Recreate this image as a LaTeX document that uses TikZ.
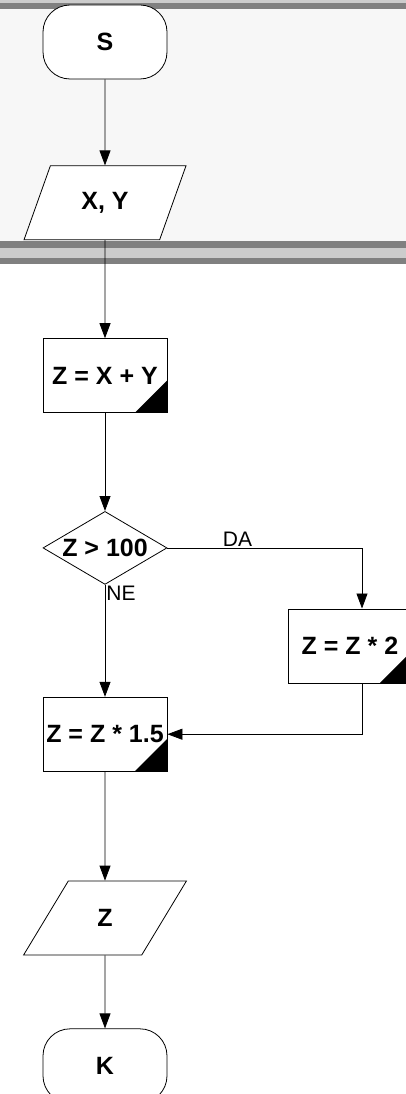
\documentclass[tikz,border=0pt]{standalone}
\usepackage{fontspec}
\setmainfont{Liberation Sans}
\usetikzlibrary{positioning,arrows.meta,shapes.geometric,calc}
\definecolor{bandgray}{HTML}{808080}
\definecolor{bandlight}{HTML}{CCCCCC}
\definecolor{panelgray}{HTML}{F7F7F7}

\begin{document}
\begin{tikzpicture}[x=1pt,y=1pt,>={Triangle[length=15pt,width=11pt]}]
\tikzset{
  box/.style={draw,line width=0.8pt,fill=white,minimum width=124pt,minimum height=74pt,inner sep=0pt,font=\fontsize{25}{29}\selectfont\bfseries},
  term/.style={box,rounded corners=27pt},
  io/.style={box,trapezium,trapezium left angle=61.6,trapezium right angle=118.4,trapezium stretches=true,minimum width=163pt},
  proc/.style={box,path picture={\fill[black] (path picture bounding box.south east) -- ++(-32pt,0pt) -- ++(32pt,32pt) -- cycle;}},
  cond/.style={box,diamond,aspect=1.7,minimum height=73pt},
  lbl/.style={font=\fontsize{21}{24}\selectfont,inner sep=1pt},
  flow/.style={->,line width=0.8pt}
}
\path[use as bounding box,clip] (0,0) rectangle (406,-1094);

% top panel with separator bands
\fill[panelgray] (0,-9) rectangle (406,-241);
\fill[bandlight] (0,0) rectangle (406,-3);
\fill[bandgray] (0,-3) rectangle (406,-9);
\fill[bandgray] (0,-241) rectangle (406,-248);
\fill[bandlight] (0,-248) rectangle (406,-258);
\fill[bandgray] (0,-258) rectangle (406,-264);

\node[term] (s) at (105,-42) {S};
\node[io,below=86pt of s] (in) {X, Y};
\node[proc,below=98pt of in] (sum) {Z = X + Y};
\node[cond,below=98pt of sum] (test) {Z > 100};
\node[proc] (dbl) at ($(test)+(245,-98)$) {Z = Z * 2};
\node[proc,below=112pt of test] (mul) {Z = Z * 1.5};
\node[io,below=109pt of mul] (out) {Z};
\node[term,below=73pt of out] (k) {K};

% connectors
\draw[flow] (s) -- (in);
\draw[flow] (in) -- (sum);
\draw[flow] (sum) -- (test);
\draw[flow] (test.east) -| node[lbl,above,pos=0.18] {DA} ([xshift=12pt]dbl.north);
\draw[flow] (test.south) -- node[lbl,anchor=north west,pos=0] {NE} (mul);
\draw[flow] ([xshift=12pt]dbl.south) |- (mul.east);
\draw[flow] (mul) -- (out);
\draw[flow] (out) -- (k);
\end{tikzpicture}
\end{document}
